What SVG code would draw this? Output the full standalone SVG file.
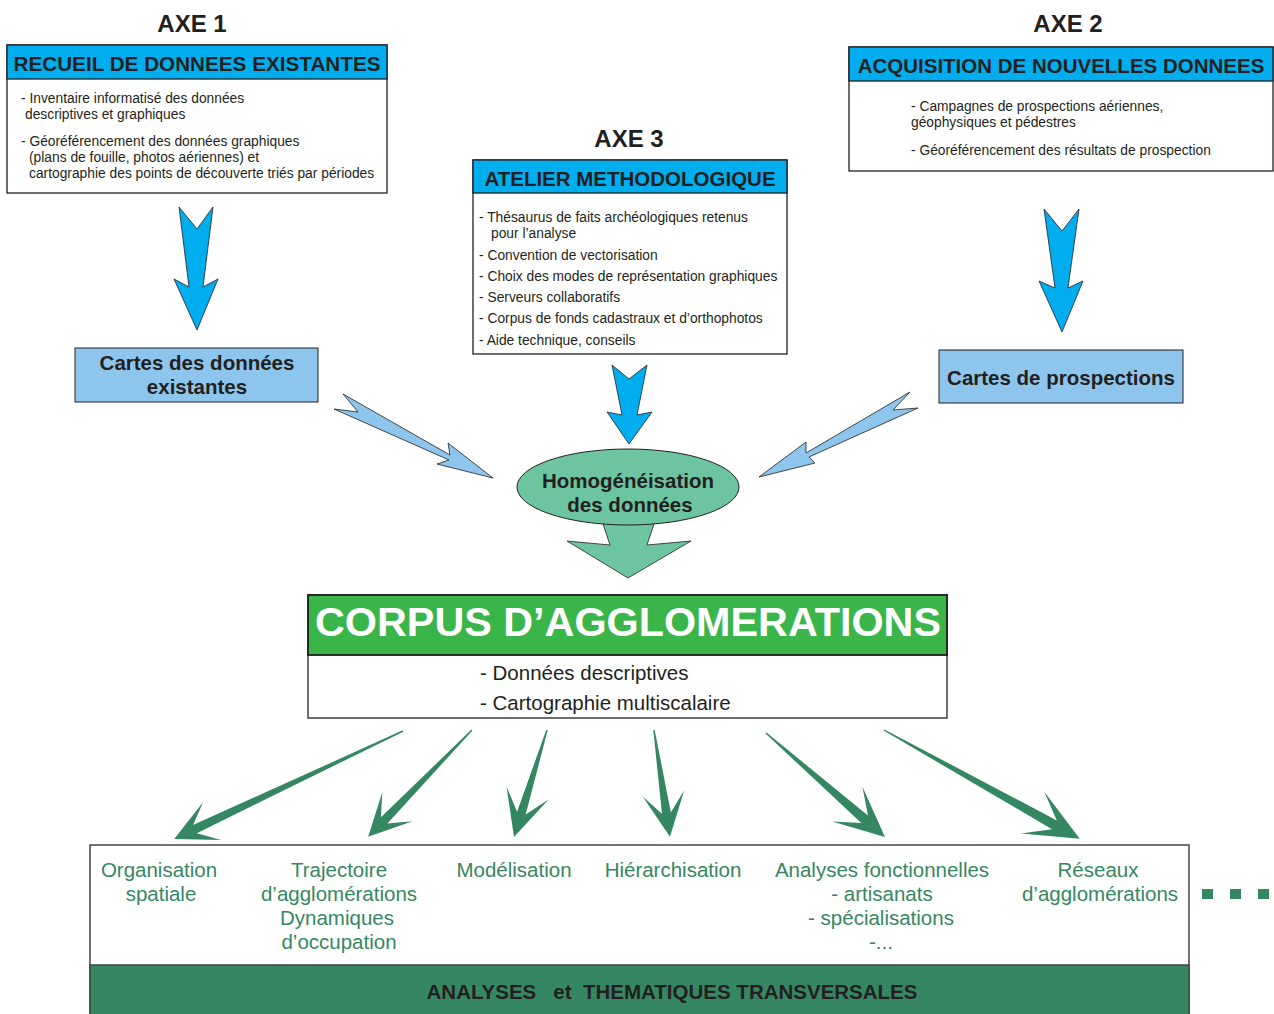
<svg xmlns="http://www.w3.org/2000/svg" width="1274" height="1014" viewBox="0 0 1274 1014">
<style>
text{font-family:"Liberation Sans",Arial,sans-serif;fill:#231f20}
.axe{font-size:24px;font-weight:bold;text-anchor:middle}
.ttl{font-size:20.5px;font-weight:bold;text-anchor:middle}
.body{font-size:13.8px}
.box{fill:#fff;stroke:#231f20;stroke-width:1.3}
.hdr{fill:#00aeef;stroke:#231f20;stroke-width:1.3}
.lb{fill:#8ec5ec;stroke:#231f20;stroke-width:1}
.bl{fill:#00aeef;stroke:#231f20;stroke-width:0.8}
.lba{fill:#8ec5ec;stroke:#231f20;stroke-width:0.8}
.ga{fill:#358763}
.item{font-size:20.5px;fill:#358763;text-anchor:middle}
.sub{font-size:20.5px}
</style>
<g id="axe1">
<text class="axe" x="192" y="32">AXE 1</text>
<rect class="box" x="7" y="45" width="380" height="148"/>
<rect class="hdr" x="7" y="45" width="380" height="34"/>
<text class="ttl" x="197" y="71" textLength="367" lengthAdjust="spacingAndGlyphs">RECUEIL DE DONNEES EXISTANTES</text>
<text class="body" x="21" y="103">- Inventaire informatisé des données</text>
<text class="body" x="25" y="119">descriptives et graphiques</text>
<text class="body" x="21" y="146">- Géoréférencement des données graphiques</text>
<text class="body" x="29" y="162">(plans de fouille, photos aériennes) et</text>
<text class="body" x="29" y="178">cartographie des points de découverte triés par périodes</text>
</g>
<g id="axe2">
<text class="axe" x="1068" y="32">AXE 2</text>
<rect class="box" x="849" y="47" width="424" height="124"/>
<rect class="hdr" x="849" y="47" width="424" height="34"/>
<text class="ttl" x="1061" y="73">ACQUISITION DE NOUVELLES DONNEES</text>
<text class="body" x="911" y="111">- Campagnes de prospections aériennes,</text>
<text class="body" x="911" y="127">géophysiques et pédestres</text>
<text class="body" x="911" y="155">- Géoréférencement des résultats de prospection</text>
</g>
<g id="axe3">
<text class="axe" x="629" y="147">AXE 3</text>
<rect class="box" x="473" y="160" width="314" height="194"/>
<rect class="hdr" x="473" y="160" width="314" height="33"/>
<text class="ttl" x="630" y="186">ATELIER METHODOLOGIQUE</text>
<text class="body" x="479" y="222">- Thésaurus de faits archéologiques retenus</text>
<text class="body" x="491" y="238">pour l’analyse</text>
<text class="body" x="479" y="260">- Convention de vectorisation</text>
<text class="body" x="479" y="281">- Choix des modes de représentation graphiques</text>
<text class="body" x="479" y="302">- Serveurs collaboratifs</text>
<text class="body" x="479" y="323">- Corpus de fonds cadastraux et d’orthophotos</text>
<text class="body" x="479" y="345">- Aide technique, conseils</text>
</g>
<g id="cartes-existantes">
<rect class="lb" x="75" y="348" width="243" height="54"/>
<text class="ttl" x="197" y="370">Cartes des données</text>
<text class="ttl" x="197" y="394">existantes</text>
</g>
<g id="cartes-prospections">
<rect class="lb" x="939" y="350" width="244" height="53"/>
<text class="ttl" x="1061" y="385">Cartes de prospections</text>
</g>
<g id="connectors">
<polygon class="bl" points="179,207 197,229 213,207 203,287 218,279 197,330 174,279 189,287"/>
<polygon class="bl" points="1044,209 1062,231 1079,209 1068,288 1083,281 1062,332 1039,281 1055,288"/>
<polygon class="bl" points="612,365 629,379 647,365 637,415 652,412 629,444 607,412 622,415"/>
<polygon class="lba" points="343,394 450,455 448,443 493,478 437,464 449,460 334,409 358,412"/>
<polygon class="lba" points="910,392 806,453 806,442 759,477 815,463 809,457 918,408 893,410"/>
<polygon fill="#6cc5a0" stroke="#231f20" stroke-width="0.8" points="600,515 610,545 567,541 628,578 691,541 647,545 657,515"/>
<g class="ga">
<polygon transform="translate(403,731) rotate(154.75)" points="0,-0.7 230,-4.5 211,-21 253,0 211,21 230,4.5 0,0.7"/>
<polygon transform="translate(472,730) rotate(134.19)" points="0,-0.7 126,-4.5 107,-21 149,0 107,21 126,4.5 0,0.7"/>
<polygon transform="translate(547,730) rotate(107.14)" points="0,-0.7 87,-4.5 66,-22 112,0 66,22 87,4.5 0,0.7"/>
<polygon transform="translate(654,730) rotate(81.5)" points="0,-0.7 84,-4.5 64,-21 108,0 64,21 84,4.5 0,0.7"/>
<polygon transform="translate(766,733) rotate(41.15)" points="0,-0.7 131,-5 108,-23 158,0 108,23 131,5 0,0.7"/>
<polygon transform="translate(884,730) rotate(29.08)" points="0,-0.7 195,-5 170,-24 224,0 170,24 195,5 0,0.7"/>
</g>
</g>
<g id="homogeneisation">
<ellipse cx="628" cy="487" rx="111" ry="38" fill="#6cc5a0" stroke="#231f20" stroke-width="1"/>
<text class="ttl" x="628" y="488">Homogénéisation</text>
<text class="ttl" x="630" y="512">des données</text>
</g>
<g id="corpus">
<rect class="box" x="308" y="595" width="639" height="123" stroke-width="1.8"/>
<rect x="308" y="595" width="639" height="60" fill="#3ab54a" stroke="#231f20" stroke-width="1.8"/>
<text x="628" y="636" font-size="40" font-weight="bold" text-anchor="middle" style="fill:#fff" textLength="626" lengthAdjust="spacingAndGlyphs">CORPUS D’AGGLOMERATIONS</text>
<text class="sub" x="480" y="680">- Données descriptives</text>
<text class="sub" x="480" y="710">- Cartographie multiscalaire</text>
</g>
<g id="analyses">
<rect x="90" y="845" width="1099" height="180" fill="#fff" stroke="#444" stroke-width="1.5"/>
<rect x="90" y="965" width="1099" height="60" fill="#358763" stroke="#444" stroke-width="1.5"/>
<text x="672" y="999" font-size="20.5" font-weight="bold" text-anchor="middle" style="white-space:pre">ANALYSES   et  THEMATIQUES TRANSVERSALES</text>
<text class="item" x="159" y="877">Organisation</text>
<text class="item" x="161" y="901">spatiale</text>
<text class="item" x="339" y="877">Trajectoire</text>
<text class="item" x="339" y="901">d’agglomérations</text>
<text class="item" x="337" y="925">Dynamiques</text>
<text class="item" x="339" y="949">d’occupation</text>
<text class="item" x="514" y="877">Modélisation</text>
<text class="item" x="673" y="877">Hiérarchisation</text>
<text class="item" x="882" y="877">Analyses fonctionnelles</text>
<text class="item" x="882" y="901">- artisanats</text>
<text class="item" x="881" y="925">- spécialisations</text>
<text class="item" x="881" y="949">-...</text>
<text class="item" x="1098" y="877">Réseaux</text>
<text class="item" x="1100" y="901">d’agglomérations</text>
</g>
<g id="more" fill="#358763">
<rect x="1202" y="889" width="11" height="10"/>
<rect x="1230" y="889" width="11" height="10"/>
<rect x="1258" y="889" width="11" height="10"/>
</g>
</svg>
